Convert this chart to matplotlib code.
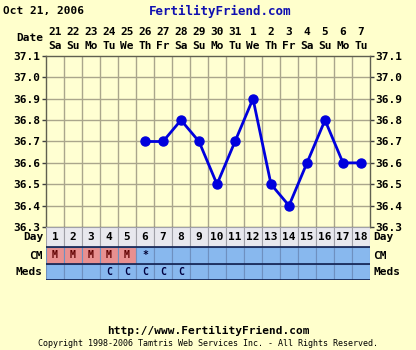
import matplotlib
matplotlib.use('Agg')
import matplotlib.pyplot as plt
import matplotlib.transforms as mtransforms

W, H = 416, 350

days = list(range(1, 19))
dates = ['21', '22', '23', '24', '25', '26', '27', '28', '29',
         '30', '31', '1', '2', '3', '4', '5', '6', '7']
weekdays = ['Sa', 'Su', 'Mo', 'Tu', 'We', 'Th', 'Fr', 'Sa', 'Su',
            'Mo', 'Tu', 'We', 'Th', 'Fr', 'Sa', 'Su', 'Mo', 'Tu']
temp_days = [6, 7, 8, 9, 10, 11, 12, 13, 14, 15, 16, 17, 18]
temps = [36.7, 36.7, 36.8, 36.7, 36.5, 36.7, 36.9, 36.5, 36.4, 36.6, 36.8, 36.6, 36.6]
temp_ticks = [36.3, 36.4, 36.5, 36.6, 36.7, 36.8, 36.9, 37.0, 37.1]
cm = ['M', 'M', 'M', 'M', 'M', '*', '', '', '', '', '', '', '', '', '', '', '', '']
meds = ['', '', '', 'C', 'C', 'C', 'C', 'C', '', '', '', '', '', '', '', '', '', '']

BG = '#ffffcc'
PLOT_BG = '#ffffd2'
GRID = '#aaa68c'
FONT = 'DejaVu Sans Mono'


def px(x, y):
    return x / W, 1 - y / H


def box(x0, y0, x1, y1):
    return [x0 / W, 1 - y1 / H, (x1 - x0) / W, (y1 - y0) / H]


fig = plt.figure(figsize=(W / 100, H / 100), dpi=100, facecolor=BG)

# temperature chart
ax = fig.add_axes(box(46, 56, 370, 227))
ax.set_facecolor(PLOT_BG)
ax.set_xlim(0.5, 18.5)
ax.set_ylim(36.3, 37.1)
for d in days[:-1]:
    ax.axvline(d + 0.5, color=GRID, lw=1, zorder=1)
for t in temp_ticks[1:-1]:
    ax.axhline(t, color=GRID, lw=1, zorder=1)
ax.plot(temp_days, temps, color='#0000dd', lw=2, marker='o', ms=6.5, zorder=3)
ax.set_xticks([])
ax.set_yticks(temp_ticks)
ax.set_yticklabels(['%.1f' % t for t in temp_ticks], fontfamily=FONT,
                   fontweight='bold', fontsize=8)
ax.tick_params(axis='y', length=3, width=1, color='#404040', pad=1,
               right=True, labelright=True)
for s in ax.spines.values():
    s.set_color('#606050')
    s.set_linewidth(1)

# date header
trans = mtransforms.blended_transform_factory(ax.transData, fig.transFigure)
for d, dt, wd in zip(days, dates, weekdays):
    ax.text(d, px(0, 32)[1], dt, transform=trans, ha='center', va='center',
            fontfamily=FONT, fontweight='bold', fontsize=8)
    ax.text(d, px(0, 46)[1], wd, transform=trans, ha='center', va='center',
            fontfamily=FONT, fontweight='bold', fontsize=8)

# day / cm / meds table
tab = fig.add_axes(box(46, 227, 370, 280))
tab.set_xlim(0.5, 18.5)
tab.set_ylim(3, 0)
tab.set_xticks([])
tab.set_yticks([])
rows_h = [0, 1.13, 2.08, 3]
for i, d in enumerate(days):
    tab.add_patch(plt.Rectangle((d - 0.5, rows_h[0]), 1, rows_h[1] - rows_h[0],
                                facecolor='#e8e8ee', edgecolor='#a0a0a8', lw=0.8))
    c1 = '#e89090' if cm[i] == 'M' else '#88b8ee'
    tab.add_patch(plt.Rectangle((d - 0.5, rows_h[1]), 1, rows_h[2] - rows_h[1],
                                facecolor=c1, edgecolor='#6e90c0', lw=0.8))
    tab.add_patch(plt.Rectangle((d - 0.5, rows_h[2]), 1, rows_h[3] - rows_h[2],
                                facecolor='#88b8ee', edgecolor='#6e90c0', lw=0.8))
    tab.text(d, (rows_h[0] + rows_h[1]) / 2, str(d), ha='center', va='center',
             fontfamily=FONT, fontweight='bold', fontsize=8)
    tab.text(d, (rows_h[1] + rows_h[2]) / 2, cm[i], ha='center', va='center',
             fontfamily=FONT, fontweight='bold', fontsize=7,
             color='#600000' if cm[i] == 'M' else '#000030')
    tab.text(d, (rows_h[2] + rows_h[3]) / 2, meds[i], ha='center', va='center',
             fontfamily=FONT, fontweight='bold', fontsize=7, color='#000040')
for yy in rows_h[1:]:
    tab.axhline(yy, color='#102050', lw=1.2)
for s in tab.spines.values():
    s.set_visible(False)

# side labels
for label, y in [('Date', 38), ('Day', 237), ('CM', 256), ('Meds', 272)]:
    if label != 'Date':
        fig.text(*px(373, y), label, ha='left', va='center', fontfamily=FONT,
                 fontweight='bold', fontsize=8)
    fig.text(*px(43, y), label, ha='right', va='center', fontfamily=FONT,
             fontweight='bold', fontsize=8)

# titles and footer
fig.text(*px(3, 11), 'Oct 21, 2006', ha='left', va='center', fontfamily=FONT,
         fontweight='bold', fontsize=8)
fig.text(*px(220, 11), 'FertilityFriend.com', ha='center', va='center',
         fontfamily=FONT, fontweight='bold', fontsize=9, color='#1010b0')
fig.text(*px(208, 331), 'http://www.FertilityFriend.com', ha='center', va='center',
         fontfamily=FONT, fontweight='bold', fontsize=8)
fig.text(*px(208, 344), 'Copyright 1998-2006 Tamtris Web Services Inc. - All Rights Reserved.',
         ha='center', va='center', fontfamily=FONT, fontsize=6)

fig.savefig('out.png', dpi=100, facecolor=BG)
